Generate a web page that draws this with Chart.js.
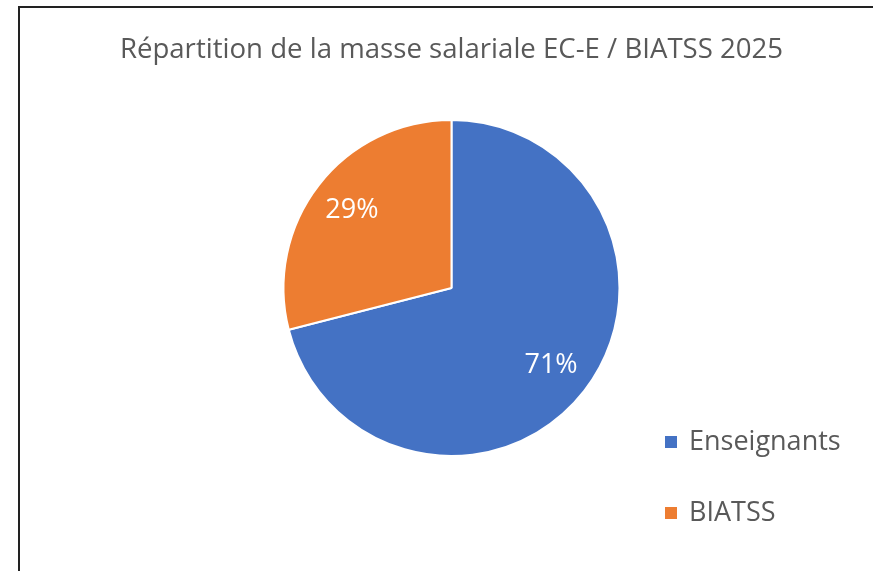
<!DOCTYPE html>
<html>
<head>
<meta charset="utf-8">
<script src="https://cdn.jsdelivr.net/npm/chart.js@4/dist/chart.umd.min.js"></script>
<style>
  html, body { margin: 0; padding: 0; overflow: hidden; background: #fff; }
  #wrap { position: relative; width: 873px; height: 571px; }
  #frame { position: absolute; left: 18px; top: 6px; width: 900px; height: 620px; border: 2px solid #222; box-sizing: border-box; }
  canvas { position: absolute; left: 0; top: 0; }
</style>
</head>
<body>
<div id="wrap">
  <div id="frame"></div>
  <canvas id="c" width="873" height="571"></canvas>
</div>
<script>
const title = "Répartition de la masse salariale EC-E / BIATSS 2025";
const categories = ["Enseignants", "BIATSS"];
const values = [71, 29];
const percentLabels = ["71%", "29%"];
const colors = ["#4472C4", "#ED7D31"];

const FONT = "'Open Sans'";
const TEXT_SIZE = 27;
const TITLE_SIZE = 27.6;

const labelPlugin = {
  id: 'sliceLabels',
  afterDatasetsDraw(chart) {
    const ctx = chart.ctx;
    const meta = chart.getDatasetMeta(0);
    ctx.save();
    ctx.font = TEXT_SIZE + "px " + FONT;
    ctx.fillStyle = "#ffffff";
    ctx.textAlign = "center";
    ctx.textBaseline = "middle";
    meta.data.forEach((arc, i) => {
      const p = arc.getProps(['x','y','startAngle','endAngle','outerRadius'], true);
      const mid = (p.startAngle + p.endAngle) / 2;
      const r = p.outerRadius * 0.75;
      ctx.fillText(percentLabels[i], p.x + Math.cos(mid) * r, p.y + Math.sin(mid) * r);
    });
    ctx.restore();
  }
};

const legendPlugin = {
  id: 'sideLegend',
  afterDraw(chart) {
    const ctx = chart.ctx;
    ctx.save();
    ctx.font = TEXT_SIZE + "px " + FONT;
    ctx.textBaseline = "middle";
    ctx.textAlign = "left";
    const ys = [442, 513];
    categories.forEach((name, i) => {
      ctx.fillStyle = colors[i];
      ctx.fillRect(665, ys[i] - 6, 12, 12);
      ctx.fillStyle = "#595959";
      ctx.fillText(name, 689, ys[i]);
    });
    ctx.restore();
  }
};

new Chart(document.getElementById('c'), {
  type: 'pie',
  data: {
    labels: categories,
    datasets: [{
      data: values,
      backgroundColor: colors,
      borderColor: '#ffffff',
      borderWidth: 2,
      hoverOffset: 0
    }]
  },
  options: {
    responsive: false,
    animation: false,
    events: [],
    layout: { padding: { left: 30, right: 0, top: 0, bottom: 114 } },
    plugins: {
      legend: { display: false },
      tooltip: { enabled: false },
      title: {
        display: true,
        text: title,
        color: '#595959',
        font: { family: "Open Sans", size: TITLE_SIZE, weight: 'normal' },
        padding: { top: 34, bottom: 51.9 }
      }
    }
  },
  plugins: [labelPlugin, legendPlugin]
});
</script>
</body>
</html>
